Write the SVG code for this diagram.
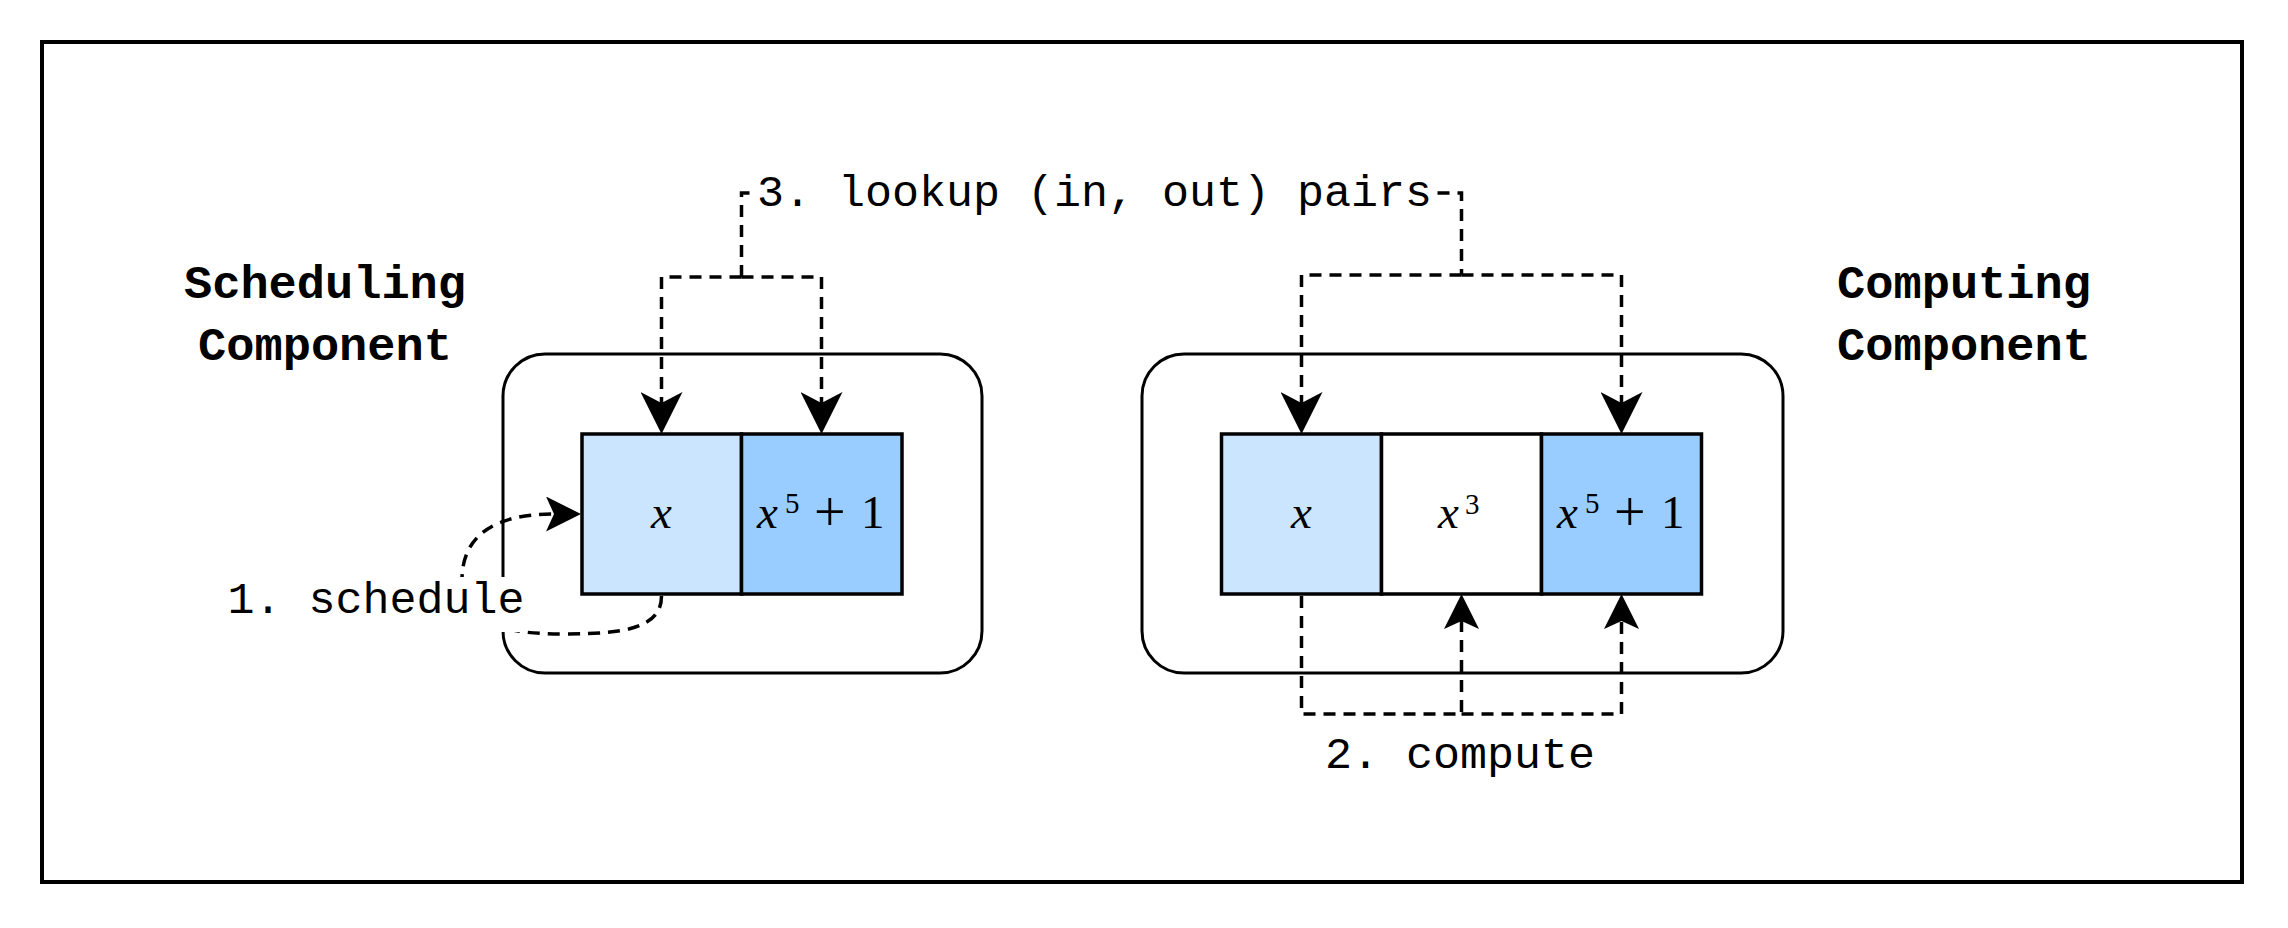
<svg xmlns="http://www.w3.org/2000/svg" width="2288" height="928" viewBox="0 0 2288 928">
<style>
.frame{fill:none;stroke:#000;stroke-width:4}
.comp{fill:#fff;stroke:#000;stroke-width:3}
.cell{stroke:#000;stroke-width:3.5}
.c0{fill:#fff}.c1{fill:#cce5ff}.c2{fill:#99ccff}
.edge{fill:none;stroke:#000;stroke-width:3.5;stroke-dasharray:12 8}
.bg{fill:#fff;stroke:none}
.lbl{font-family:"Liberation Mono","Courier New",monospace;font-size:45px;fill:#000;text-anchor:middle}
.title{font-family:"Liberation Mono","Courier New",monospace;font-size:47px;font-weight:bold;fill:#000;text-anchor:middle}
.math{font-family:"Liberation Serif","Times New Roman",serif;font-size:47px;fill:#000}
.it{font-style:italic}
.sup{font-size:29px}
.plus{font-size:56px}
</style>
<defs>
<marker id="ah" markerUnits="userSpaceOnUse" viewBox="0 0 42 42" markerWidth="42" markerHeight="42" refX="11" refY="21" orient="auto"><path d="M0,0 L42,21 L0,42 L11,21 Z" fill="#000"/></marker>
<marker id="as" markerUnits="userSpaceOnUse" viewBox="0 0 35 35" markerWidth="35" markerHeight="35" refX="8" refY="17.5" orient="auto"><path d="M0,0 L35,17.5 L0,35 L8,17.5 Z" fill="#000"/></marker>
</defs>
<rect width="2288" height="928" fill="#fff"/>
<rect id="frame" class="frame" x="42" y="42" width="2200" height="840"/>

<g id="scheduling-component">
<rect class="comp" x="503" y="354" width="479" height="319" rx="42"/>
</g>
<g id="computing-component">
<rect class="comp" x="1142" y="354" width="641" height="319" rx="42"/>
</g>

<g id="sched-x">
<rect class="cell c1" x="582" y="434" width="159.5" height="160"/>
<text class="math it" x="661.5" y="528" text-anchor="middle">x</text>
</g>
<g id="sched-out">
<rect class="cell c2" x="741.5" y="434" width="160.5" height="160"/>
<text class="math"><tspan class="it" x="757" y="528">x</tspan><tspan class="sup" x="785" y="513">5</tspan><tspan class="plus" x="814" y="531">+</tspan><tspan x="861" y="528">1</tspan></text>
</g>

<g id="comp-x">
<rect class="cell c1" x="1221.5" y="434" width="160" height="160"/>
<text class="math it" x="1301.5" y="528" text-anchor="middle">x</text>
</g>
<g id="comp-x3">
<rect class="cell c0" x="1381.5" y="434" width="160" height="160"/>
<text class="math"><tspan class="it" x="1438" y="528">x</tspan><tspan class="sup" x="1465" y="514">3</tspan></text>
</g>
<g id="comp-out">
<rect class="cell c2" x="1541.5" y="434" width="160" height="160"/>
<text class="math"><tspan class="it" x="1557" y="528">x</tspan><tspan class="sup" x="1585" y="513">5</tspan><tspan class="plus" x="1614" y="531">+</tspan><tspan x="1661" y="528">1</tspan></text>
</g>

<g id="connectors">
<path class="edge" d="M741.5 277 V193 H1461.5 V275"/>
<path class="edge" d="M741.5 277 H661.5 V403" marker-end="url(#ah)"/>
<path class="edge" d="M741.5 277 H821.5 V403" marker-end="url(#ah)"/>
<path class="edge" d="M1461.5 275 H1301.5 V403" marker-end="url(#ah)"/>
<path class="edge" d="M1461.5 275 H1621.5 V403" marker-end="url(#ah)"/>
<path class="edge" d="M1301.5 596 V714 H1461.5 V621" marker-end="url(#as)"/>
<path class="edge" d="M1461.5 714 H1621.5 V621" marker-end="url(#as)"/>
<path class="edge" d="M661.5 596 C661.5 628 625 634 565 634 C505 634 462 625 462 580 C462 535 495 514 554 514" marker-end="url(#as)"/>
</g>

<g id="labels">
<rect class="bg" x="756" y="174" width="677" height="42"/>
<text class="lbl" x="1094.5" y="206">3. lookup (in, out) pairs</text>
<rect class="bg" x="231" y="577" width="289" height="55"/>
<text class="lbl" x="376" y="613">1. schedule</text>
<text class="lbl" x="1460" y="768">2. compute</text>
</g>

<g id="title-scheduling">
<text class="title" x="325" y="298">Scheduling</text>
<text class="title" x="325" y="360">Component</text>
</g>
<g id="title-computing">
<text class="title" x="1964" y="298">Computing</text>
<text class="title" x="1964" y="360">Component</text>
</g>
</svg>
